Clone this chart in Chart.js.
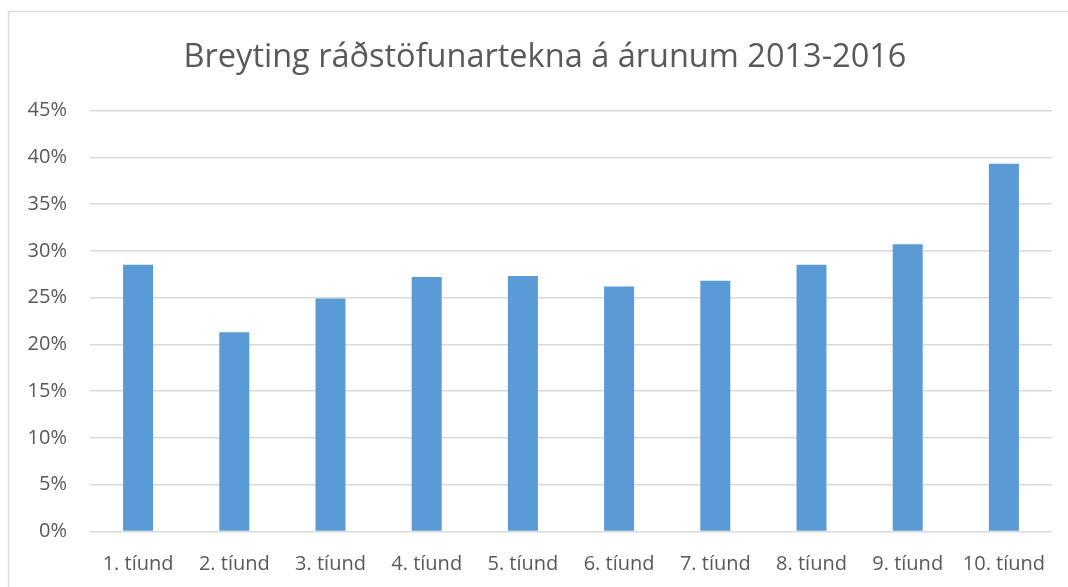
<!DOCTYPE html>
<html>
<head>
<meta charset="utf-8">
<script src="https://cdn.jsdelivr.net/npm/chart.js@4/dist/chart.umd.min.js"></script>
<style>
  html, body { margin: 0; padding: 0; background: #fff; overflow: hidden; }
  #wrap { position: absolute; left: 0; top: 0; width: 1068px; height: 587px; }
</style>
</head>
<body>
<div id="wrap"><canvas id="myChart"></canvas></div>
<script>
// gögn lesin af myndinni
const flokkar = ['1. tíund', '2. tíund', '3. tíund', '4. tíund', '5. tíund',
                 '6. tíund', '7. tíund', '8. tíund', '9. tíund', '10. tíund'];
const breyting = [28.5, 21.3, 24.9, 27.2, 27.3, 26.2, 26.8, 28.5, 30.7, 39.3];
const yTikk = [0, 5, 10, 15, 20, 25, 30, 35, 40, 45];
const titill = 'Breyting ráðstöfunartekna á árunum 2013-2016';

const grar = '#595959';
const linur = '#d9d9d9';

// rammi utan um myndina (vinstri og efri brún sjást)
// og titillinn færður aðeins til hægri eins og á fyrirmyndinni
const rammi = {
  id: 'rammi',
  afterLayout(chart) {
    if (chart.titleBlock) chart.titleBlock.left += 38;
  },
  beforeDraw(chart) {
    const ctx = chart.ctx;
    ctx.save();
    ctx.strokeStyle = linur;
    ctx.lineWidth = 1.5;
    ctx.beginPath();
    ctx.moveTo(8.5, chart.height + 2);
    ctx.lineTo(8.5, 11.5);
    ctx.lineTo(chart.width + 2, 11.5);
    ctx.stroke();
    ctx.restore();
  }
};

let ctx = document.getElementById('myChart').getContext('2d');
let chart = new Chart(ctx, {
  type: 'bar',
  data: {
    labels: flokkar,
    datasets: [{
      label: titill,
      data: breyting,
      backgroundColor: '#5b9bd5',
      borderWidth: 0,
      barPercentage: 0.312,
      categoryPercentage: 1
    }]
  },
  options: {
    responsive: true,
    maintainAspectRatio: false,
    animation: false,
    layout: { padding: { left: 0, right: 16, top: 0, bottom: 0 } },
    plugins: {
      legend: { display: false },
      tooltip: { enabled: false },
      title: {
        display: true,
        text: titill,
        color: grar,
        font: { family: 'Open Sans', size: 32.5, weight: 'normal' },
        padding: { top: 38.3, bottom: 33.2 }
      }
    },
    scales: {
      x: {
        grid: { display: false },
        border: { display: false },
        ticks: {
          color: grar,
          padding: 12.5,
          maxRotation: 0,
          font: { family: 'Open Sans', size: 20 }
        },
        afterFit(scale) { scale.height = 55.5; }
      },
      y: {
        min: 0,
        max: 45,
        border: { display: false },
        grid: { color: linur, lineWidth: 1.5, drawTicks: false },
        afterBuildTicks(scale) { scale.ticks = yTikk.map(v => ({ value: v })); },
        afterFit(scale) { scale.width = 90; },
        ticks: {
          color: grar,
          padding: 23,
          font: { family: 'Open Sans', size: 20 },
          callback: v => v + '%'
        }
      }
    }
  },
  plugins: [rammi]
});
</script>
</body>
</html>
